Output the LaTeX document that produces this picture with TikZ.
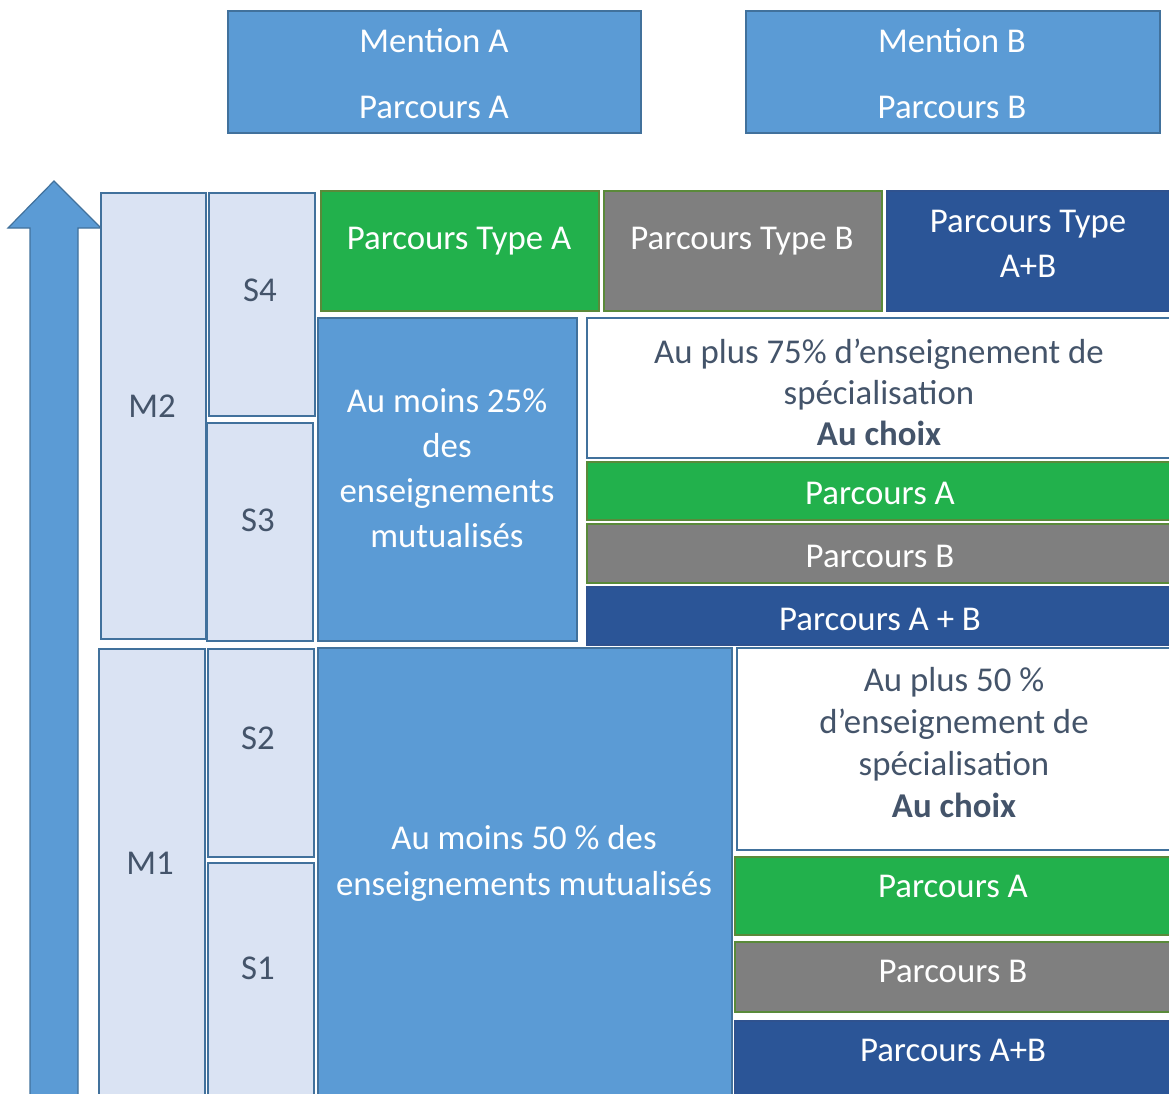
\documentclass[tikz,border=0pt]{standalone}
\usepackage{fontspec}
\setmainfont{Carlito}
\usetikzlibrary{fit}
\definecolor{midblue}{HTML}{5B9BD5}
\definecolor{bordblue}{HTML}{41719C}
\definecolor{lightblue}{HTML}{DAE3F3}
\definecolor{grn}{HTML}{22B14C}
\definecolor{grnbord}{HTML}{5A8A3A}
\definecolor{gry}{HTML}{7F7F7F}
\definecolor{dkblue}{HTML}{2B5597}
\definecolor{dkbord}{HTML}{2F528F}
\definecolor{darktext}{HTML}{44546A}
\begin{document}
\begin{tikzpicture}[x=1pt,y=-1pt,
  box/.style={draw, line width=1.5pt, inner sep=0pt},
  bluebox/.style={box, fill=midblue, draw=bordblue},
  lightbox/.style={box, fill=lightblue, draw=bordblue},
  greenbox/.style={box, fill=grn, draw=grnbord},
  graybox/.style={box, fill=gry, draw=grnbord},
  darkbox/.style={box, fill=dkblue, draw=dkbord},
  whitebox/.style={box, fill=white, draw=bordblue, line width=1.2pt},
  txt/.style={inner sep=0pt, align=center, text depth=0pt, font=\fontsize{34.8}{45}\selectfont},
  wtxt/.style={txt, text=white},
  dtxt/.style={txt, text=darktext},
]
\useasboundingbox (0,0) rectangle (1169,1093);
\clip (0,0) rectangle (1169,1093);

% top boxes
\node[bluebox, fit={(228,11) (641,133)}] (mentA) {};
\node[bluebox, fit={(746,11) (1160,133)}] (mentB) {};
\node[wtxt, font=\fontsize{34.8}{66}\selectfont] (mentAt) at (434,73) {Mention A\\Parcours A};
\node[wtxt, font=\fontsize{34.8}{66}\selectfont] (mentBt) at (952,73) {Mention B\\Parcours B};

% arrow
\filldraw[fill=midblue, draw=bordblue, line width=1.2pt]
  (30,1110) -- (30,228) -- (8,228) -- (54,181) -- (101,228) -- (78,228) -- (78,1110) -- cycle;

% years and semesters
\node[lightbox, fit={(101,193) (206,639)}] (m2) {};
\node[lightbox, fit={(209,193) (315,416)}] (s4) {};
\node[lightbox, fit={(207,423) (313,641)}] (s3) {};
\node[lightbox, fit={(99,649) (205,1110)}] (m1) {};
\node[lightbox, fit={(208,649) (314,857)}] (s2) {};
\node[lightbox, fit={(208,863) (314,1110)}] (s1) {};
\node[dtxt] (m2t) at (152,406) {M2};
\node[dtxt] (s4t) at (260,290) {S4};
\node[dtxt] (s3t) at (258,520) {S3};
\node[dtxt] (m1t) at (150,863) {M1};
\node[dtxt] (s2t) at (258,738) {S2};
\node[dtxt] (s1t) at (258,968) {S1};

% parcours types
\node[greenbox, fit={(321,191) (599,311)}] (ptA) {};
\node[graybox, fit={(604,191) (882,311)}] (ptB) {};
\node[darkbox, fit={(887,191) (1185,311)}] (ptAB) {};
\node[wtxt] (ptAt) at (459,238) {Parcours Type A};
\node[wtxt] (ptBt) at (742,238) {Parcours Type B};
\node[wtxt] (ptABt) at (1028,244) {Parcours Type\\A+B};

% M2 content
\node[bluebox, fit={(318,318) (577,641)}] (mut25) {};
\node[wtxt, font=\fontsize{34.8}{45.3}\selectfont] (mut25t) at (447,468) {Au moins 25\%\\des\\enseignements\\mutualisés};
\node[whitebox, fit={(587,318) (1185,458)}] (spe75) {};
\node[dtxt, font=\fontsize{34.8}{41}\selectfont] (spe75t) at (879,392) {Au plus 75\% d’enseignement de\\spécialisation\\{\bfseries Au choix}};
\node[greenbox, fit={(587,462) (1185,520)}] (pA1) {};
\node[graybox, fit={(587,524) (1185,583)}] (pB1) {};
\node[darkbox, fit={(587,587) (1185,645)}] (pAB1) {};
\node[wtxt] (pA1t) at (880,493) {Parcours A};
\node[wtxt] (pB1t) at (880,556) {Parcours B};
\node[wtxt] (pAB1t) at (880,619) {Parcours A + B};

% M1 content
\node[bluebox, fit={(318,648) (732,1110)}] (mut50) {};
\node[wtxt, font=\fontsize{34.8}{46}\selectfont] (mut50t) at (524,860) {Au moins 50 \% des\\enseignements mutualisés};
\node[whitebox, fit={(737,648) (1185,850)}] (spe50) {};
\node[dtxt, font=\fontsize{34.8}{42}\selectfont] (spe50t) at (954,742.5) {Au plus 50 \%\\d’enseignement de\\spécialisation\\{\bfseries Au choix}};
\node[greenbox, fit={(735,857) (1185,935)}] (pA2) {};
\node[graybox, fit={(735,942) (1185,1012)}] (pB2) {};
\node[darkbox, fit={(735,1021) (1185,1110)}] (pAB2) {};
\node[wtxt] (pA2t) at (953,886) {Parcours A};
\node[wtxt] (pB2t) at (953,971) {Parcours B};
\node[wtxt] (pAB2t) at (953,1050) {Parcours A+B};
\end{tikzpicture}
\end{document}
